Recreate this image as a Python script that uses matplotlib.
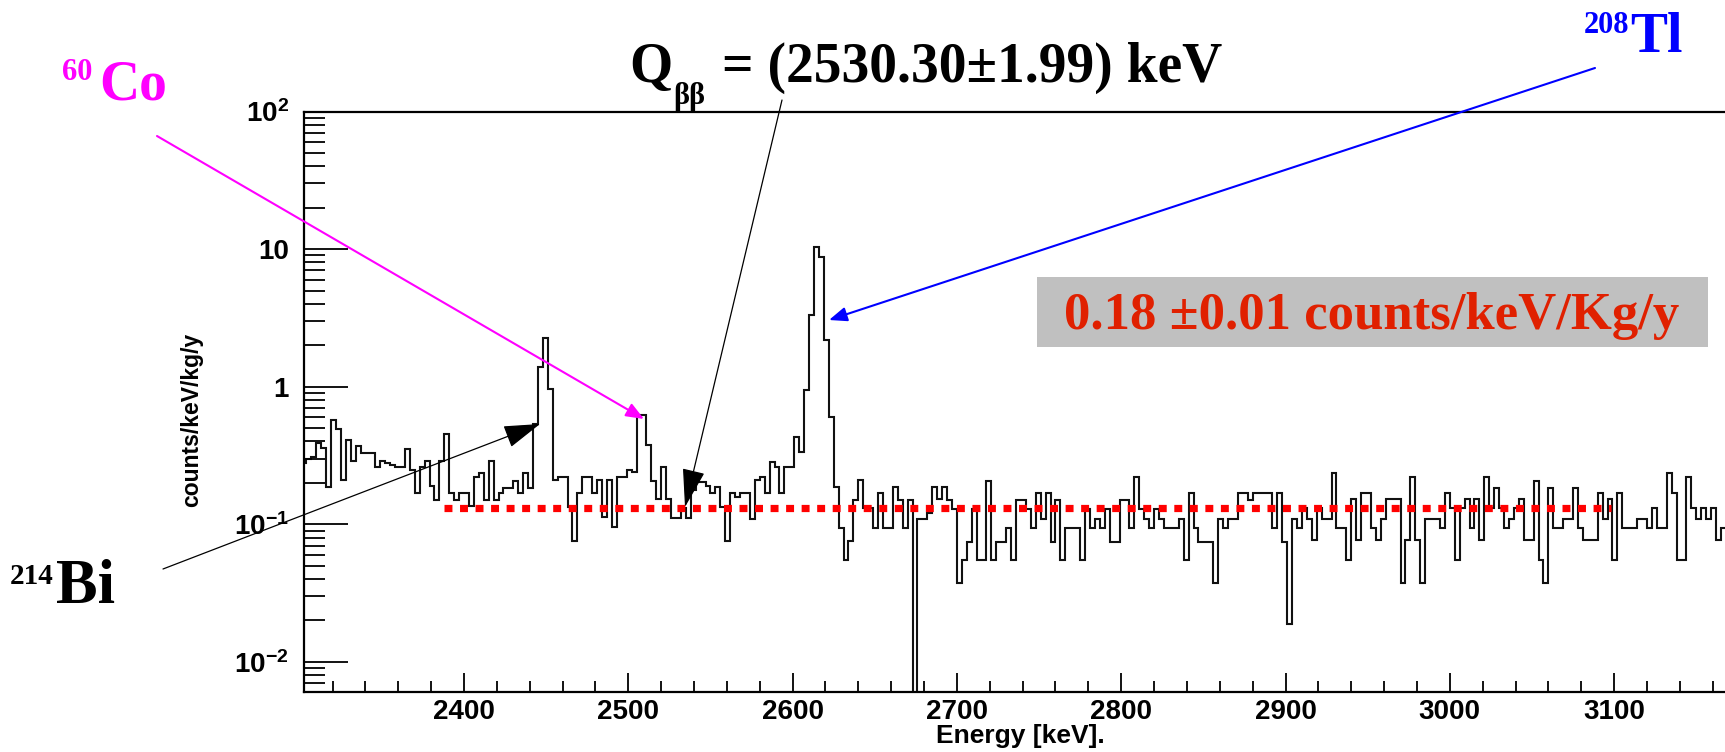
import numpy as np
import matplotlib
matplotlib.use("Agg")
import matplotlib.pyplot as plt
from matplotlib.patches import FancyArrowPatch, Rectangle, ArrowStyle
from matplotlib.ticker import FixedLocator, FixedFormatter, MultipleLocator, LogLocator, NullFormatter

# ---------------- data ----------------
bin_start = 2301.0   # keV, left edge of first bin
bin_width = 3.0      # keV
counts = [
    0.28, 0.30, 0.31, 0.39, 0.36, 0.188, 0.57, 0.49, 0.21, 0.41, 0.29,
    0.37, 0.33, 0.33, 0.33, 0.26, 0.29, 0.28, 0.27, 0.26, 0.26,
    0.35, 0.25, 0.17, 0.26, 0.29, 0.19, 0.15, 0.29, 0.45, 0.17,
    0.15, 0.17, 0.17, 0.135, 0.22, 0.235, 0.15, 0.29, 0.15, 0.17,
    0.185, 0.185, 0.205, 0.17, 0.235, 0.185, 0.54, 1.40, 2.25, 0.97,
    0.21, 0.22, 0.22, 0.134, 0.076, 0.17, 0.22, 0.22, 0.168, 0.21,
    0.113, 0.21, 0.096, 0.22, 0.22, 0.248, 0.24, 0.62, 0.62, 0.38,
    0.207, 0.152, 0.262, 0.152, 0.111, 0.111, 0.131, 0.111, 0.177, 0.204,
    0.204, 0.19, 0.17, 0.188, 0.134, 0.075, 0.168, 0.159, 0.168, 0.168,
    0.11, 0.21, 0.222, 0.168, 0.282, 0.262, 0.168, 0.262, 0.262, 0.43,
    0.337, 0.95, 3.32, 10.4, 8.7, 2.18, 0.605, 0.188, 0.0935, 0.055,
    0.075, 0.15, 0.21, 0.131, 0.131, 0.0935, 0.168, 0.0935, 0.0935, 0.188,
    0.15, 0.0935, 0.15, 1e-4, 0.11, 0.11, 0.12, 0.188, 0.153, 0.188,
    0.15, 0.13, 0.0377, 0.055, 0.0748, 0.13, 0.055, 0.055, 0.207, 0.055,
    0.0748, 0.0748, 0.0935, 0.055, 0.15, 0.15, 0.13, 0.0935, 0.168, 0.11,
    0.168, 0.0748, 0.15, 0.055, 0.0935, 0.0935, 0.0935, 0.055, 0.129, 0.0935,
    0.11, 0.0935, 0.13, 0.0748, 0.0748, 0.15, 0.15, 0.0935, 0.222, 0.13,
    0.11, 0.0935, 0.129, 0.11, 0.0935, 0.0935, 0.0935, 0.11, 0.055, 0.168,
    0.0935, 0.0748, 0.0748, 0.0748, 0.0377, 0.11, 0.0935, 0.11, 0.11, 0.168,
    0.168, 0.15, 0.168, 0.168, 0.168, 0.168, 0.0935, 0.168, 0.0748, 0.019,
    0.11, 0.0935, 0.131, 0.11, 0.077, 0.131, 0.11, 0.11, 0.237, 0.0935,
    0.0935, 0.055, 0.152, 0.077, 0.168, 0.168, 0.0935, 0.077, 0.11, 0.152,
    0.152, 0.152, 0.0377, 0.077, 0.219, 0.077, 0.0377, 0.11, 0.11, 0.11,
    0.0935, 0.168, 0.131, 0.055, 0.131, 0.152, 0.0935, 0.152, 0.077, 0.219,
    0.131, 0.185, 0.131, 0.0935, 0.11, 0.131, 0.152, 0.077, 0.077, 0.207,
    0.055, 0.0377, 0.185, 0.0935, 0.0935, 0.11, 0.11, 0.185, 0.0935, 0.077,
    0.077, 0.077, 0.168, 0.11, 0.152, 0.055, 0.168, 0.0935, 0.0935, 0.0935,
    0.11, 0.11, 0.0935, 0.131, 0.0935, 0.0935, 0.237, 0.168, 0.055, 0.055,
    0.219, 0.131, 0.11, 0.131, 0.11, 0.131, 0.077, 0.0935, 0.0935,
]
bkg_level = 0.131            # dotted background level
bkg_range = [2388, 3098]     # keV
x_major = [2400, 2500, 2600, 2700, 2800, 2900, 3000, 3100]
y_major = [1e-2, 1e-1, 1, 10, 100]
y_major_labels = [r"$\mathbf{10^{-2}}$", r"$\mathbf{10^{-1}}$", "1", "10", r"$\mathbf{10^{2}}$"]
x_title = "Energy [keV]."
y_title = "counts/keV/kg/y"
qbb_value = "= (2530.30\u00b11.99) keV"
rate_text = "0.18 \u00b10.01 counts/keV/Kg/y"

# ---------------- style ----------------
plt.rcParams['font.family'] = ['Liberation Sans', 'DejaVu Sans']
plt.rcParams['font.weight'] = 'bold'
plt.rcParams['mathtext.fontset'] = 'custom'
plt.rcParams['mathtext.bf'] = 'Liberation Sans:bold'
plt.rcParams['mathtext.rm'] = 'Liberation Sans:bold'

W, H = 1725, 752
fig = plt.figure(figsize=(W / 100, H / 100), dpi=100)
fig.patch.set_facecolor('white')

def fp(x, y):
    return (x / W, 1 - y / H)

ax_left, ax_right, ax_top, ax_bottom = 304, 1778.4, 111.5, 691.7
ax = fig.add_axes([ax_left / W, 1 - ax_bottom / H, (ax_right - ax_left) / W, (ax_bottom - ax_top) / H])

edges = bin_start + bin_width * np.arange(len(counts) + 1)
ax.stairs(counts, edges, baseline=None, color='#111111', lw=1.5)
ax.hlines(bkg_level, bkg_range[0], bkg_range[1], colors='#FF0000', lw=5.2,
          linestyles=(0, (1.1, 1.05)))

ax.set_yscale('log')
ax.set_xlim(2302.6, 3200)
ax.set_ylim(0.00607, 100)

ax.xaxis.set_major_locator(FixedLocator(x_major))
ax.xaxis.set_minor_locator(MultipleLocator(20))
ax.yaxis.set_major_locator(FixedLocator(y_major))
ax.yaxis.set_major_formatter(FixedFormatter(y_major_labels))
ax.yaxis.set_minor_locator(LogLocator(base=10, subs=np.arange(2, 10)))
ax.yaxis.set_minor_formatter(NullFormatter())

ax.tick_params(axis='x', which='major', direction='in', length=13.7, width=1.3, labelsize=20, pad=5)
ax.tick_params(axis='x', which='minor', direction='in', length=7.9, width=1.3)
ax.tick_params(axis='y', which='major', direction='in', length=32, width=1.3, labelsize=20, pad=11)
ax.tick_params(axis='y', which='minor', direction='in', length=15, width=1.3)
for lab in ax.get_xticklabels() + ax.get_yticklabels():
    lab.set_fontweight('bold')
for sp in ax.spines.values():
    sp.set_linewidth(1.6)

fig.text(*fp(1020, 736), x_title, ha='center', va='center', fontsize=19, fontweight='bold')
fig.text(*fp(192, 420), y_title, ha='center', va='center', rotation=90, fontsize=16.5, fontweight='bold')

# ---------------- annotations ----------------
serif = ['Liberation Serif', 'DejaVu Serif']
fig.text(*fp(629, 82), "Q", ha='left', va='baseline', fontsize=40, family=serif, fontweight='bold')
fig.text(*fp(673, 104), "\u03b2\u03b2", ha='left', va='baseline', fontsize=22, family=serif, fontweight='bold')
fig.text(*fp(722, 82), qbb_value, ha='left', va='baseline', fontsize=40, family=serif, fontweight='bold')

fig.text(*fp(62, 80), "60", ha='left', va='baseline', fontsize=22, family=serif, fontweight='bold', color='#FF00FF')
fig.text(*fp(99, 99), "Co", ha='left', va='baseline', fontsize=40, family=serif, fontweight='bold', color='#FF00FF')

fig.text(*fp(1584, 33), "208", ha='left', va='baseline', fontsize=22, family=serif, fontweight='bold', color='#0000FF')
fig.text(*fp(1630, 52), "Tl", ha='left', va='baseline', fontsize=40, family=serif, fontweight='bold', color='#0000FF')

fig.text(*fp(10, 584), "214", ha='left', va='baseline', fontsize=21, family=serif, fontweight='bold', color='black')
fig.text(*fp(56, 603), "Bi", ha='left', va='baseline', fontsize=45, family=serif, fontweight='bold', color='black')

fig.add_artist(Rectangle(fp(1037, 347), 671 / W, 70 / H, transform=fig.transFigure,
                         facecolor='#C0C0C0', edgecolor='none', zorder=3))
fig.text(*fp(1064, 329), rate_text, ha='left', va='baseline', fontsize=38, family=serif,
         fontweight='bold', color='#E02000', zorder=4)

PT = 100 / 72.0
arrows = [
    ((157, 136), (644, 419), '#FF00FF', 1.5, 15, 6),
    ((163, 569), (540, 424), 'black', 0.9, 32, 10),
    ((782, 100), (685, 507), 'black', 0.9, 34, 10),
    ((1595, 68), (829, 320), '#0000FF', 1.5, 15, 6),
]
for a, b, col, lw, hl, hw in arrows:
    style = ArrowStyle('-|>', head_length=hl / PT, head_width=hw / PT)
    fig.add_artist(FancyArrowPatch(fp(*a), fp(*b), transform=fig.transFigure, arrowstyle=style,
                                   mutation_scale=1, lw=lw, color=col, shrinkA=0, shrinkB=0, zorder=5))

fig.savefig('out.png', dpi=100)
